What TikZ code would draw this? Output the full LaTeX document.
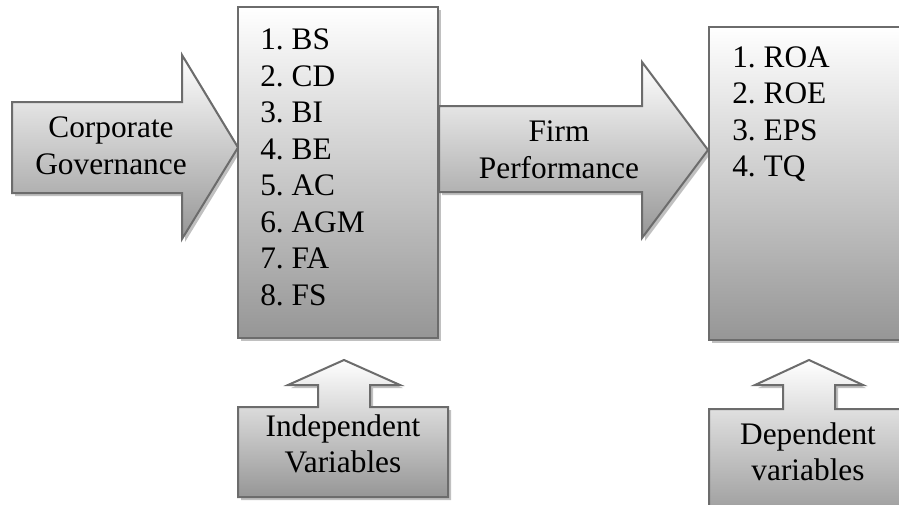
\documentclass[tikz,border=0pt]{standalone}
\usepackage{fontspec}
\setmainfont{Liberation Serif}
\usetikzlibrary{shadows}
\definecolor{edgegray}{RGB}{108,108,108}
\definecolor{fillgray}{RGB}{150,150,150}
\definecolor{shadegray}{RGB}{192,192,192}
\frenchspacing

\tikzset{
  blockshade/.style={draw=edgegray, line width=1.5pt, top color=white, bottom color=fillgray,
    drop shadow={shadow xshift=2.25pt, shadow yshift=-2.25pt, fill=shadegray, opacity=1}},
  itemlist/.style={align=left, anchor=west},
  tagtext/.style={align=center}
}

\begin{document}
\begin{tikzpicture}[x=0.75pt, y=-0.75pt, every node/.style={font=\fontsize{23.5}{27.4}\selectfont, inner sep=0pt}]
  \clip (0,0) rectangle (899,504);

  % Corporate Governance arrow
  \path[blockshade] (12,102) -- (182,102) -- (182,55) -- (238,147.5) -- (182,239) -- (182,193) -- (12,193) -- cycle;
  \node[tagtext] (corpgov) at (111,146) {Corporate\\Governance};

  % Independent variables box
  \path[blockshade] (238,7) rectangle (438,338);
  \node[itemlist] (indeplist) at (260,167.5) {1. BS\\2. CD\\3. BI\\4. BE\\5. AC\\6. AGM\\7. FA\\8. FS};

  % Firm Performance arrow
  \path[blockshade] (439,106) -- (642,106) -- (642,62) -- (708,150) -- (642,238) -- (642,192) -- (439,192) -- cycle;
  \node[tagtext] (firmperf) at (559,150) {Firm\\Performance};

  % Dependent variables box
  \path[blockshade] (709,27) rectangle (915,340);
  \node[itemlist] (deplist) at (732,114) {1. ROA\\2. ROE\\3. EPS\\4. TQ};

  % Independent tag
  \path[blockshade] (238,407) -- (318,407) -- (318,385) -- (288,385) -- (344,360) -- (400,385) -- (370,385) -- (370,407) -- (448,407) -- (448,497) -- (238,497) -- cycle;
  \node[tagtext] (indeptag) at (343,444) {Independent\\Variables};

  % Dependent tag
  \path[blockshade] (709,409) -- (783,409) -- (783,385) -- (755,385) -- (809,360) -- (863,385) -- (835,385) -- (835,409) -- (915,409) -- (915,525) -- (709,525) -- cycle;
  \node[tagtext] (deptag) at (808,452) {Dependent\\variables};
\end{tikzpicture}
\end{document}
